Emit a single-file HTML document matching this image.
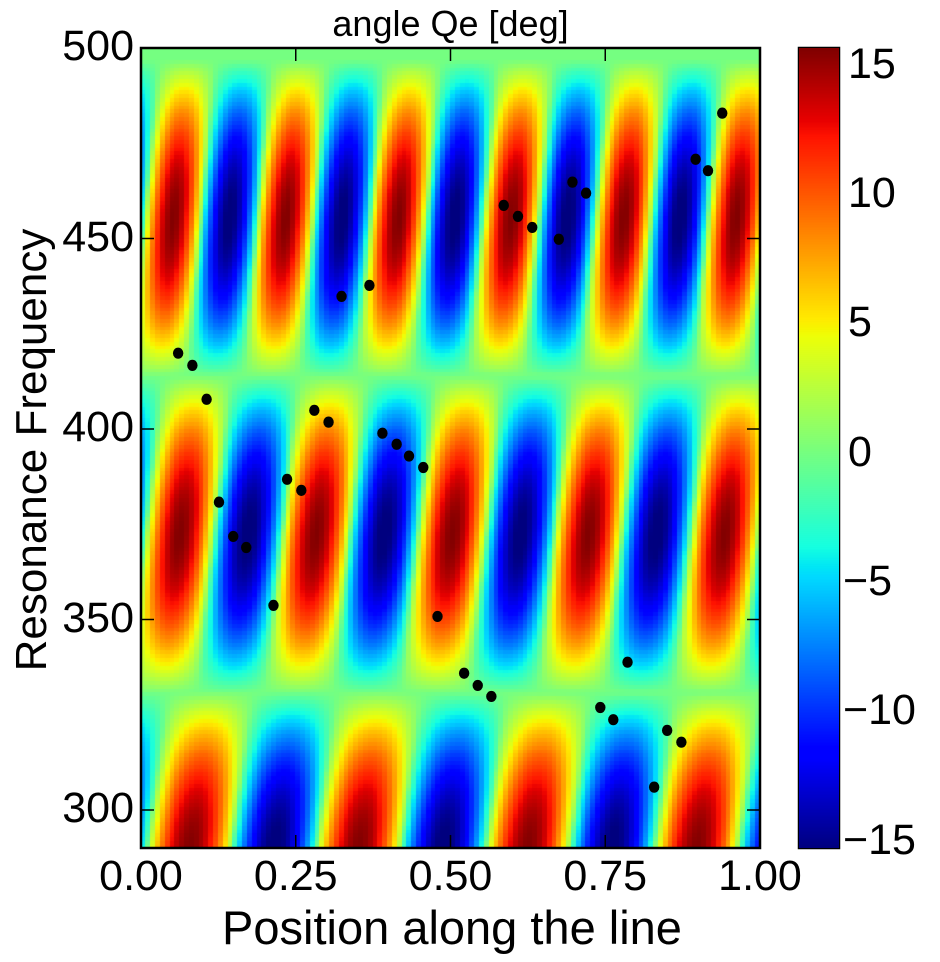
<!DOCTYPE html>
<html><head><meta charset="utf-8">
<style>
body{margin:0;background:#fff;width:940px;height:962px;overflow:hidden;position:relative;font-family:"Liberation Sans",sans-serif;}
.abs{position:absolute;}
.tl{position:absolute;font-size:43px;color:#000;line-height:1;}
</style></head>
<body>
<div class="abs" style="left:141px;width:619px;top:4px;text-align:center;font-size:36px;line-height:1.1;">angle Qe [deg]</div>
<canvas id="heat" class="abs" width="619" height="800" style="left:141px;top:48px;"></canvas>
<svg id="ov" class="abs" width="940" height="962" style="left:0;top:0;"></svg>
<canvas id="cb" class="abs" width="40" height="800" style="left:799px;top:48px;"></canvas>
<div class="abs" style="left:32px;top:450px;transform:translate(-50%,-50%) rotate(-90deg);font-size:44px;white-space:nowrap;">Resonance Frequency</div>
<div class="abs" style="left:452px;top:900px;transform:translateX(-50%);font-size:47px;white-space:nowrap;">Position along the line</div>
<div id="labels"></div>
<script>
// heatmap model parameters (bands)
const bandLow = [248, 331, 414];
const bandHigh = [331, 414, 497];
const bandPeriod = [0.273, 0.220, 0.182];
const bandAmp = [15.6, 15.6, 15.6];
// scatter data
const ptX = [0.060,0.083,0.106,0.126,0.149,0.170,0.214,0.236,0.259,0.280,0.303,0.324,0.369,0.390,0.413,0.433,0.456,0.479,0.522,0.544,0.566,0.586,0.609,0.632,0.675,0.697,0.719,0.742,0.763,0.786,0.829,0.850,0.873,0.896,0.916,0.939];
const ptF = [419.9,416.7,407.8,380.8,371.8,368.9,353.7,386.8,383.9,404.9,401.8,434.8,437.7,398.9,396.0,392.9,389.9,350.8,335.9,332.7,329.8,458.7,455.8,452.9,449.8,464.8,461.9,326.9,323.7,338.8,306.0,320.9,317.8,470.8,467.8,482.9];
const xTicks = [0, 0.25, 0.5, 0.75, 1.0];
const xTickLabels = ["0.00","0.25","0.50","0.75","1.00"];
const yTicks = [300, 350, 400, 450, 500];
const cTicks = [-15, -10, -5, 0, 5, 10, 15];
const cTickLabels = ["\u221215","\u221210","\u22125","0","5","10","15"];

const PX0=141, PW=619, PY0=48, PH=800, FMAX=500, FMIN=500-800/3.81;
const VMIN=-15.25, VMAX=15.68;
const sx = x => PX0 + x*PW;
const sy = f => PY0 + (FMAX-f)/(FMAX-FMIN)*PH;
function interp(pts,t){for(let i=1;i<pts.length;i++){if(t<=pts[i][0]){const a=pts[i-1],b=pts[i];return a[1]+(b[1]-a[1])*(t-a[0])/(b[0]-a[0]);}}return pts[pts.length-1][1];}
function jet(t){t=Math.max(0,Math.min(1,t));
 const r=interp([[0,0],[0.35,0],[0.66,1],[0.89,1],[1,0.5]],t);
 const g=interp([[0,0],[0.125,0],[0.375,1],[0.64,1],[0.91,0],[1,0]],t);
 const b=interp([[0,0.5],[0.11,1],[0.34,1],[0.65,0],[1,0]],t);
 return [r*255|0,g*255|0,b*255|0];}
function value(x,f){
 for(let i=0;i<bandLow.length;i++){
  if(f>=bandLow[i]&&f<bandHigh[i]){
   const u=(f-bandLow[i])/(bandHigh[i]-bandLow[i]);
   const env=Math.pow(Math.sin(Math.PI*u),0.9);
   const ph=x/bandPeriod[i]-0.29-0.25*(u-0.5);
   const c=Math.cos(2*Math.PI*ph);
   return bandAmp[i]*env*Math.sign(c)*Math.pow(Math.abs(c),0.8);
  }}
 return 0;}
// draw heatmap
const hc=document.getElementById('heat').getContext('2d');
const NX=128, f0=Math.floor(FMIN);
for(let j=0;j<NX;j++){
 const x0=j/NX, x1=(j+1)/NX, xc=(x0+x1)/2;
 for(let f=f0; f<FMAX; f++){
  const v=value(xc,f+0.5);
  const c=jet((v-VMIN)/(VMAX-VMIN));
  hc.fillStyle=`rgb(${c[0]},${c[1]},${c[2]})`;
  const ya=sy(f+1)-PY0, yb=sy(f)-PY0;
  hc.fillRect(Math.floor(x0*PW),Math.floor(ya),Math.ceil(x1*PW)-Math.floor(x0*PW),Math.ceil(yb)-Math.floor(ya));
 }}
// colorbar
const cc=document.getElementById('cb').getContext('2d');
for(let y=0;y<800;y++){const v=VMAX-(y+0.5)/800*(VMAX-VMIN);const c=jet((v-VMIN)/(VMAX-VMIN));cc.fillStyle=`rgb(${c[0]},${c[1]},${c[2]})`;cc.fillRect(0,y,40,1);}
// overlay
const NS='http://www.w3.org/2000/svg', ov=document.getElementById('ov');
function mk(tag,attrs){const e=document.createElementNS(NS,tag);for(const k in attrs)e.setAttribute(k,attrs[k]);ov.appendChild(e);return e;}
for(let i=0;i<ptX.length;i++){
 const c=mk('ellipse',{cx:sx(ptX[i]),cy:sy(ptF[i]),rx:5.2,ry:5.6,fill:'#000'});
 
 
}
const fr=mk('rect',{x:PX0,y:PY0,width:PW,height:PH,fill:'none',stroke:'#000','stroke-width':2.5});


const cf=mk('rect',{x:799,y:48,width:40,height:800,fill:'none',stroke:'#000','stroke-width':2.5});


const lab=document.getElementById('labels');
function addLabel(txt,style,name){const d=document.createElement('div');d.className='tl';d.textContent=txt;d.setAttribute('style',style);
 
 
 lab.appendChild(d);}
xTicks.forEach((t,i)=>{
 const x=sx(t);
 const l=mk('line',{x1:x,x2:x,y1:848,y2:835,stroke:'#000','stroke-width':1.5});
 
 
 const l2=mk('line',{x1:x,x2:x,y1:48,y2:61,stroke:'#000','stroke-width':1.5});
 
 
 addLabel(xTickLabels[i],`left:${x}px;top:855px;transform:translateX(-50%);`,'x-tick-label');
});
yTicks.forEach(t=>{
 const y=sy(t);
 const l=mk('line',{x1:141,x2:154,y1:y,y2:y,stroke:'#000','stroke-width':1.5});
 
 
 const l2=mk('line',{x1:760,x2:747,y1:y,y2:y,stroke:'#000','stroke-width':1.5});
 
 
 addLabel(String(t),`right:${940-134}px;top:${y-23}px;`,'y-tick-label');
});
cTicks.forEach((t,i)=>{
 const y=48+(VMAX-t)/(VMAX-VMIN)*800;
 const l=mk('line',{x1:839,x2:826,y1:y,y2:y,stroke:'#000','stroke-width':1.5});
 
 
 addLabel(cTickLabels[i],`left:${t<0?843:848}px;top:${y-23}px;`,'colorbar-tick-label');
});
</script>
</body></html>
